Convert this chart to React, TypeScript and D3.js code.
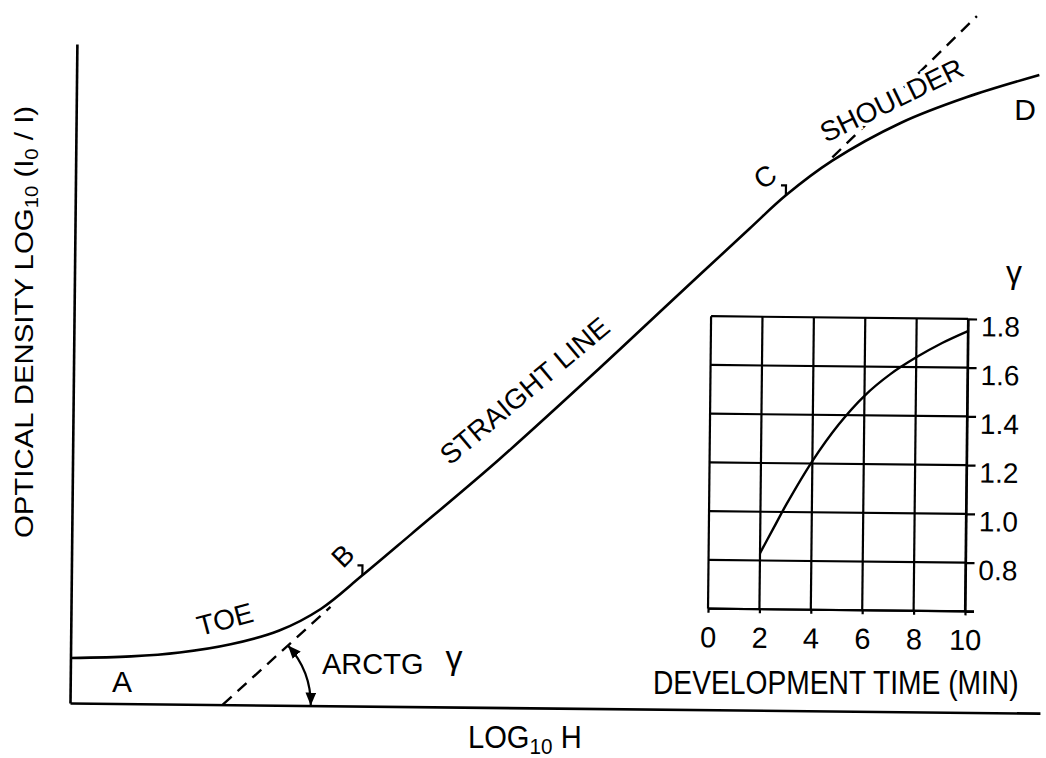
import { useEffect, useRef } from "react";
import * as d3 from "d3";

// characteristic curve: log exposure vs optical density
const logH = [0, 0.25, 0.45, 0.66, 0.86, 1.03, 1.2, 1.4, 1.76, 2.17, 2.46, 2.78, 2.93, 3.12, 3.4, 3.67, 3.97];
const density = [0.205, 0.215, 0.235, 0.275, 0.34, 0.44, 0.595, 0.785, 1.13, 1.55, 1.855, 2.19, 2.345, 2.505, 2.68, 2.8, 2.905];

// B and C, ends of the straight part
const breakLogH = [1.2, 2.93];
const breakDensity = [0.595, 2.345];

// dashed extensions of the straight line
const tangentLowLogH = [0.63, 1.07];
const tangentLowDensity = [0, 0.45];
const tangentHighLogH = [3.12, 3.71];
const tangentHighDensity = [2.52, 3.17];

// inset: gamma vs development time
const devTime = [2, 2.5, 3, 4, 5, 6, 7, 8, 9, 10];
const gamma = [0.83, 0.93, 1.03, 1.21, 1.36, 1.48, 1.57, 1.64, 1.7, 1.75];
const timeTicks = [0, 2, 4, 6, 8, 10];
const gammaTicks = [0.6, 0.8, 1.0, 1.2, 1.4, 1.6, 1.8];

const FONT = "'Liberation Sans', Arial, Helvetica, sans-serif";

export default function App() {
  const xAxisRef = useRef<SVGGElement>(null);
  const yAxisRef = useRef<SVGGElement>(null);
  const txAxisRef = useRef<SVGGElement>(null);
  const tyAxisRef = useRef<SVGGElement>(null);

  const x = d3.scaleLinear().domain([0, 4]).range([70, 1040]);
  const y = d3.scaleLinear().domain([0, 3]).range([703, 44]);
  const tx = d3.scaleLinear().domain([0, 10]).range([707, 964]);
  const ty = d3.scaleLinear().domain([0.6, 1.8]).range([602, 309.5]);

  useEffect(() => {
    // plain main axes, no ticks
    d3.select(xAxisRef.current!)
      .call(d3.axisBottom(x).tickValues([]).tickSizeOuter(0) as any)
      .select(".domain").attr("stroke-width", 2.6);
    d3.select(yAxisRef.current!)
      .call(d3.axisLeft(y).tickValues([]).tickSizeOuter(0) as any)
      .select(".domain").attr("stroke-width", 2.6);

    const fmt = d3.format(".1f");
    const gy = d3.select(tyAxisRef.current!);
    gy.call(
      d3.axisRight(ty)
        .tickValues(gammaTicks)
        .tickSize(9)
        .tickPadding(4)
        .tickSizeOuter(0)
        .tickFormat((d: any) => (d === 0.6 ? "" : fmt(d))) as any
    );
    gy.selectAll("line").attr("stroke-width", 2.2);
    gy.select(".domain").attr("stroke-width", 2.2);
    gy.selectAll("text")
      .attr("font-size", 28)
      .attr("font-family", FONT)
      .attr("dy", "0.6em")
      .attr("fill", "#000");

    const gx = d3.select(txAxisRef.current!);
    gx.call(d3.axisBottom(tx).tickValues(timeTicks).tickSize(4).tickPadding(14).tickSizeOuter(0) as any);
    gx.selectAll("line").attr("stroke-width", 2.2);
    gx.select(".domain").attr("stroke-width", 2.2).attr("d", `M${tx(0)},0H${tx(10) + 9}`);
    gx.selectAll("text")
      .attr("font-size", 29)
      .attr("font-family", FONT)
      .attr("fill", "#000");
  }, []);

  const curve = d3
    .line<number>()
    .x((_, i) => x(logH[i]))
    .y((_, i) => y(density[i]))
    .curve(d3.curveCatmullRom.alpha(0.5))(logH);

  const seg = (xs: number[], ys: number[]) =>
    d3.line<number>().x((_, i) => x(xs[i])).y((_, i) => y(ys[i]))(xs);

  const gammaLine = d3
    .line<number>()
    .x((_, i) => tx(devTime[i]))
    .y((_, i) => ty(gamma[i]))
    .curve(d3.curveCatmullRom.alpha(0.5))(devTime);

  // angle arc between the tangent and the exposure axis
  const cx = x(tangentLowLogH[0]);
  const cy = y(0);
  const ang = Math.atan2(
    y(tangentLowDensity[0]) - y(tangentLowDensity[1]),
    x(tangentLowLogH[1]) - x(tangentLowLogH[0])
  );
  const r = 88;
  const arc = `M${cx + r},${cy} A${r},${r} 0 0 0 ${cx + r * Math.cos(ang)},${cy - r * Math.sin(ang)}`;

  const ink = "#000";
  const txt = { fontFamily: FONT, fill: ink } as const;

  return (
    <svg
      width={1046}
      height={758}
      style={{ position: "absolute", left: 0, top: 0, background: "#fff" }}
    >
      <defs>
        <marker
          id="head"
          viewBox="0 0 12 10"
          refX={12}
          refY={5}
          markerWidth={13}
          markerHeight={11}
          markerUnits="userSpaceOnUse"
          orient="auto-start-reverse"
        >
          <path d="M0,0 L12,5 L0,10 Z" fill={ink} />
        </marker>
      </defs>

      {/* the scan is tilted a little clockwise */}
      <g transform="rotate(0.6 70 703)">
        <g ref={xAxisRef} transform={`translate(0,${y(0)})`} />
        <g ref={yAxisRef} transform={`translate(${x(0)},0)`} />

        <path d={curve ?? ""} fill="none" stroke={ink} strokeWidth={2.6} />

        <path d={seg(tangentLowLogH, tangentLowDensity) ?? ""} fill="none" stroke={ink} strokeWidth={2.4} strokeDasharray="12 8" />
        <path d={seg(tangentHighLogH, tangentHighDensity) ?? ""} fill="none" stroke={ink} strokeWidth={2.4} strokeDasharray="12 8" />

        {breakLogH.map((v, i) => (
          <path
            key={i}
            d={`M${x(v)},${y(breakDensity[i])}V${y(breakDensity[i]) - 10}h-5`}
            fill="none"
            stroke={ink}
            strokeWidth={2.2}
          />
        ))}

        <path d={arc} fill="none" stroke={ink} strokeWidth={2.2} markerStart="url(#head)" markerEnd="url(#head)" />

        {/* inset grid */}
        <g stroke={ink} strokeWidth={2.2}>
          {timeTicks.map((t) => (
            <line key={"v" + t} x1={tx(t)} x2={tx(t)} y1={ty(0.6)} y2={ty(1.8)} />
          ))}
          {gammaTicks.map((g) => (
            <line key={"h" + g} x1={tx(0)} x2={tx(10)} y1={ty(g)} y2={ty(g)} />
          ))}
        </g>
        <g ref={tyAxisRef} transform={`translate(${tx(10)},0)`} />
        <g ref={txAxisRef} transform={`translate(0,${ty(0.6)})`} />
        <path d={gammaLine ?? ""} fill="none" stroke={ink} strokeWidth={2.4} />
      </g>

      {/* labels, in page coordinates */}
      <text
        transform="translate(33,322) rotate(-90) scale(1.13,1)"
        textAnchor="middle"
        fontSize={26}
        {...txt}
      >
        OPTICAL DENSITY LOG<tspan fontSize={18} dy={5}>10</tspan>
        <tspan dy={-5}> (I</tspan>
        <tspan fontSize={18} dy={5}>0</tspan>
        <tspan dy={-5}> / I)</tspan>
      </text>

      <text transform="translate(468,748) scale(0.94,1)" fontSize={31} {...txt}>
        LOG<tspan fontSize={22} dy={6}>10</tspan>
        <tspan dy={-6}> H</tspan>
      </text>

      <text x={122} y={692} fontSize={30} textAnchor="middle" {...txt}>A</text>
      <text transform="translate(200,636) rotate(-15)" fontSize={28} {...txt}>TOE</text>
      <text transform="translate(343,556) rotate(-45)" fontSize={28} textAnchor="middle" dominantBaseline="central" {...txt}>B</text>
      <text transform="translate(450,466) rotate(-40)" fontSize={28} {...txt}>
        STRAIGHT LINE
      </text>
      <text transform="translate(765,177) rotate(-35)" fontSize={28} textAnchor="middle" dominantBaseline="central" {...txt}>C</text>
      <text
        transform="translate(826,143) rotate(-26)"
        fontSize={28}
        stroke="#fff"
        strokeWidth={7}
        paintOrder="stroke"
        {...txt}
      >
        SHOULDER
      </text>
      <text x={1025} y={120} fontSize={30} textAnchor="middle" {...txt}>D</text>

      <text x={322} y={674} fontSize={29} {...txt}>ARCTG</text>
      <text x={454} y={669} fontSize={34} textAnchor="middle" {...txt}>γ</text>

      <text x={1014} y={283} fontSize={32} textAnchor="middle" {...txt}>γ</text>
      <text transform="translate(653,694) scale(0.855,1)" fontSize={33} {...txt}>
        DEVELOPMENT TIME (MIN)
      </text>
    </svg>
  );
}
